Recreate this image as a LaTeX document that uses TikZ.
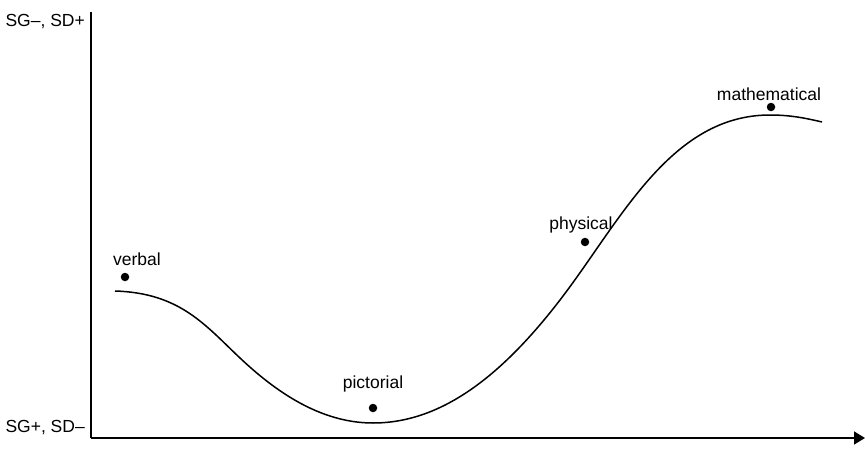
\documentclass[tikz,border=0pt]{standalone}
\usepackage{fontspec}
\setmainfont{Liberation Sans}
\usetikzlibrary{arrows.meta}
\begin{document}
\begin{tikzpicture}[x=1pt,y=-1pt,
  lbl/.style={font=\fontsize{17.5}{20}\selectfont, inner sep=0pt},
  pt/.style={circle, fill=black, inner sep=0pt, minimum size=8.5pt},
  axis/.style={line width=1.6pt},
  curve/.style={line width=1.5pt}]
\useasboundingbox (0,0) rectangle (865,452);
% axes
\coordinate (top) at (91,12);
\coordinate (origin) at (91,438);
\coordinate (xend) at (865,438);
\draw[axis] (top) -- (origin);
\draw[axis, -{Triangle[length=11pt,width=13pt]}] (origin) -- (xend);
\node[lbl, anchor=east] (high) at (85,22) {SG–, SD+};
\node[lbl, anchor=east] (low) at (85,428) {SG+, SD–};
% curve
\coordinate (c0) at (115,291);
\coordinate (c1) at (240,358);
\coordinate (c2) at (373,423);
\coordinate (c3) at (560,300);
\coordinate (c4) at (770,115);
\coordinate (c5) at (822,122);
\draw[curve] (c0) .. controls (180,293) and (205,325) .. (c1)
  .. controls (275,391) and (320,423) .. (c2)
  .. controls (440,423) and (500,378) .. (c3)
  .. controls (620,222) and (670,115) .. (c4)
  .. controls (790,115) and (805,118) .. (c5);
% points
\node[pt] (verbal) at (125,277) {};
\node[pt] (pictorial) at (373,408) {};
\node[pt] (physical) at (585,242) {};
\node[pt] (mathematical) at (771,107) {};
\node[lbl] (tverbal) at (137,259) {verbal};
\node[lbl] (tpictorial) at (373,384) {pictorial};
\node[lbl] (tphysical) at (581,225) {physical};
\node[lbl] (tmath) at (769,94) {mathematical};
\end{tikzpicture}
\end{document}
